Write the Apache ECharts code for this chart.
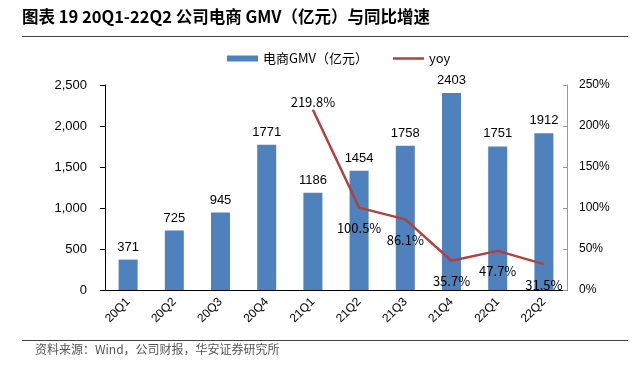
<!DOCTYPE html>
<html><head><meta charset="utf-8">
<script src="https://cdn.jsdelivr.net/npm/echarts@6/dist/echarts.min.js"></script>
<style>html,body{margin:0;padding:0;background:#fff;}#c{width:643px;height:366px;}</style>
</head><body><div id="c"></div>
<script>
const categories = ['20Q1','20Q2','20Q3','20Q4','21Q1','21Q2','21Q3','21Q4','22Q1','22Q2'];
const gmv = [371, 725, 945, 1771, 1186, 1454, 1758, 2403, 1751, 1912];
const yoy = [null, null, null, null, 219.8, 100.5, 86.1, 35.7, 47.7, 31.5];
const leftTicks = [0, 500, 1000, 1500, 2000, 2500];
const rightTicks = [0, 50, 100, 150, 200, 250];
const titleText = '图表 19 20Q1-22Q2 公司电商 GMV（亿元）与同比增速';
const sourceText = '资料来源：Wind，公司财报，华安证券研究所';

const chart = echarts.init(document.getElementById('c'));
const cjk = '"Noto Sans CJK SC", sans-serif';
const latin = '"Liberation Sans", Arial, sans-serif';
chart.setOption({
  animation: false,
  backgroundColor: '#fff',
  graphic: [
    {type:'text', left: 22, top: 8, style:{text: titleText, font: 'bold 16.5px ' + cjk, fill:'#000'}},
    {type:'line', shape:{x1:22, y1:36.5, x2:628, y2:36.5}, style:{stroke:'#444', lineWidth:1}},
    {type:'line', shape:{x1:22, y1:340.5, x2:628, y2:340.5}, style:{stroke:'#444', lineWidth:1}},
    {type:'text', left: 35, top: 343, style:{text: sourceText, font: '12px ' + cjk, fill:'#555'}}
  ],
  legend: {
    top: 47, left: 222,
    itemWidth: 31, itemHeight: 6, itemGap: 25,
    textStyle: {fontFamily: cjk, fontSize: 13, color:'#000'},
    data: [{name:'电商GMV（亿元）', icon:'rect'},
           {name:'yoy', icon:'path://M0,0L30,0L30,2.4L0,2.4Z', itemStyle:{color:'#B0413E', opacity: 1}}]
  },
  grid: {left: 105, right: 76, top: 85, bottom: 76},
  xAxis: {
    type: 'category', data: categories,
    axisLine: {lineStyle: {color:'#000', width: 1}},
    axisTick: {show: false},
    axisLabel: {rotate: 45, fontFamily: latin, fontSize: 12, color:'#000', margin: 10, interval: 0}
  },
  yAxis: [
    {type:'value', min: leftTicks[0], max: leftTicks[leftTicks.length-1], interval: 500,
     axisLine:{show:true, lineStyle:{color:'#000'}}, axisTick:{show:true, length:5, lineStyle:{color:'#000'}},
     splitLine:{show:false},
     axisLabel:{fontFamily: latin, fontSize: 13, color:'#000', margin: 18,
       formatter: v => v.toString().replace(/\B(?=(\d{3})+(?!\d))/g, ',')}},
    {type:'value', min: rightTicks[0], max: rightTicks[rightTicks.length-1], interval: 50,
     axisLine:{show:true, lineStyle:{color:'#999'}}, axisTick:{show:true, inside:true, length:4, lineStyle:{color:'#999'}},
     splitLine:{show:false},
     axisLabel:{fontFamily: latin, fontSize: 12, color:'#000', margin: 12, formatter: v => v + '%'}}
  ],
  series: [
    {name:'电商GMV（亿元）', type:'bar', data: gmv, barWidth: 19, yAxisIndex: 0,
     itemStyle:{color:'#4F81BD'},
     label:{show:true, position:'top', distance: 6, fontFamily: latin, fontSize: 13, color:'#000'}},
    {name:'yoy', type:'line', yAxisIndex: 1, symbol:'circle', symbolSize: 0.01, showSymbol: true,
     lineStyle:{color:'#B0413E', width: 2.5}, itemStyle:{color:'#B0413E'},
     label:{show:true, position:'bottom', distance: 14, fontFamily: cjk, fontSize: 13, color:'#000',
       formatter: p => p.value == null ? '' : Number(p.value).toFixed(1) + '%'},
     data: yoy.map((v, i) => i === 4 ? {value: v, label:{position:'top', distance: 1}} : v)}
  ]
});
</script></body></html>
